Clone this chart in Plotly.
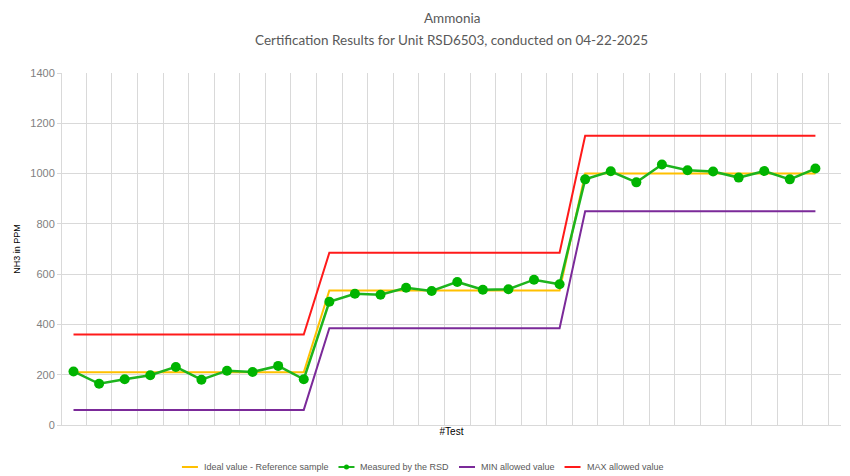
import plotly.graph_objects as go

tests = list(range(1, 31))
ideal = [210, 210, 210, 210, 210, 210, 210, 210, 210, 210,
         535, 535, 535, 535, 535, 535, 535, 535, 535, 535,
         1000, 1000, 1000, 1000, 1000, 1000, 1000, 1000, 1000, 1000]
measured = [213, 164, 182, 198, 231, 180, 216, 211, 235, 182,
            490, 522, 518, 546, 533, 569, 538, 540, 578, 560,
            977, 1009, 965, 1036, 1013, 1008, 984, 1010, 977, 1020]
min_allowed = [60, 60, 60, 60, 60, 60, 60, 60, 60, 60,
               385, 385, 385, 385, 385, 385, 385, 385, 385, 385,
               850, 850, 850, 850, 850, 850, 850, 850, 850, 850]
max_allowed = [360, 360, 360, 360, 360, 360, 360, 360, 360, 360,
               685, 685, 685, 685, 685, 685, 685, 685, 685, 685,
               1150, 1150, 1150, 1150, 1150, 1150, 1150, 1150, 1150, 1150]
y_ticks = [0, 200, 400, 600, 800, 1000, 1200, 1400]
series_names = ["Ideal value - Reference sample", "Measured by the RSD",
                "MIN allowed value", "MAX allowed value"]
series_colors = ["#FFC000", "#1DB41D", "#7B2A99", "#FF1A1A"]

W, H = 850, 476
ML, MR, MT, MB = 62, 9, 73, 51
PW, PH = W - ML - MR, H - MT - MB


def px_x(p):
    return (p - ML) / PW


def px_y(p):
    return (H - MB - p) / PH


x = [t - 1 for t in tests]

fig = go.Figure()
fig.add_trace(go.Scatter(x=x, y=ideal, mode="lines", name=series_names[0],
                         line=dict(color=series_colors[0], width=2)))
fig.add_trace(go.Scatter(x=x, y=measured, mode="lines+markers", name=series_names[1],
                         line=dict(color=series_colors[1], width=2.5),
                         marker=dict(color="#00B400", size=10)))
fig.add_trace(go.Scatter(x=x, y=min_allowed, mode="lines", name=series_names[2],
                         line=dict(color=series_colors[2], width=2)))
fig.add_trace(go.Scatter(x=x, y=max_allowed, mode="lines", name=series_names[3],
                         line=dict(color=series_colors[3], width=2)))

grid_vals = [i - 0.5 for i in range(0, 31)]

# manual legend, laid out like the reference (symbol 16px, gap 4px, text, gap 12px)
LEG_FONT = 9
ARIAL_W = {" ": 278, "-": 333, "A": 667, "D": 722, "I": 278, "M": 833, "N": 722, "R": 722,
           "S": 667, "X": 667, "a": 556, "b": 556, "c": 500, "d": 556, "e": 556, "f": 278,
           "h": 556, "l": 222, "m": 833, "n": 556, "o": 556, "p": 556, "r": 333, "s": 500,
           "t": 278, "u": 556, "v": 500, "w": 722, "y": 500}


def text_w(s):
    return sum(ARIAL_W.get(c, 556) for c in s) / 1000 * LEG_FONT


widths = [16 + 4 + text_w(n) for n in series_names]
total = sum(widths) + 12 * (len(widths) - 1)
leg_y = 467
cur = 421.5 - total / 2
shapes = []
annotations = []
for name, col, wd in zip(series_names, series_colors, widths):
    shapes.append(dict(type="line", xref="paper", yref="paper",
                       x0=px_x(cur), x1=px_x(cur + 16), y0=px_y(leg_y), y1=px_y(leg_y),
                       line=dict(color=col, width=2)))
    if name == series_names[1]:
        shapes.append(dict(type="circle", xref="paper", yref="paper",
                           x0=px_x(cur + 8 - 2.5), x1=px_x(cur + 8 + 2.5),
                           y0=px_y(leg_y + 2.5), y1=px_y(leg_y - 2.5),
                           fillcolor="#00B400", line=dict(width=0)))
    annotations.append(dict(text=name, x=px_x(cur + 20), y=px_y(leg_y), xref="paper", yref="paper",
                            xanchor="left", yanchor="middle", showarrow=False,
                            font=dict(family="Liberation Sans, Arial", size=LEG_FONT,
                                      color="#595959")))
    cur += wd + 12

annotations.append(dict(text="Ammonia", x=0.5, xref="paper", y=px_y(18), yref="paper",
                        yanchor="middle", showarrow=False,
                        font=dict(family="Lato, Open Sans", size=13.5, color="#595959")))
annotations.append(dict(text="Certification Results for Unit RSD6503, conducted on 04-22-2025",
                        x=0.5, xref="paper", y=px_y(40), yref="paper", yanchor="middle",
                        showarrow=False,
                        font=dict(family="Lato, Open Sans", size=13.5, color="#595959")))

fig.update_layout(
    width=W, height=H,
    margin=dict(l=ML, r=MR, t=MT, b=MB, autoexpand=False),
    paper_bgcolor="white", plot_bgcolor="white",
    font=dict(family="Liberation Sans, Arial", color="#595959", size=11),
    showlegend=False,
    shapes=shapes,
    annotations=annotations,
)

fig.update_xaxes(range=[-0.45, 30.0], tickvals=grid_vals, ticktext=[""] * len(grid_vals),
                 showgrid=True, gridcolor="#D9D9D9", gridwidth=1,
                 showline=True, linecolor="#D9D9D9", linewidth=1,
                 ticks="", zeroline=False, automargin=False,
                 title=dict(text="#Test", font=dict(size=10, color="black"), standoff=0))
fig.update_yaxes(range=[0, 1400], tickvals=y_ticks,
                 showgrid=True, gridcolor="#D9D9D9", gridwidth=1,
                 showline=True, linecolor="#D9D9D9", linewidth=1,
                 ticks="outside", ticklen=4, tickcolor="#D9D9D9", zeroline=False,
                 automargin=False,
                 tickfont=dict(size=11, color="#7F7F7F"),
                 title=dict(text="NH3 in PPM", font=dict(size=9, color="black"), standoff=8))

fig.write_html("out.html")
